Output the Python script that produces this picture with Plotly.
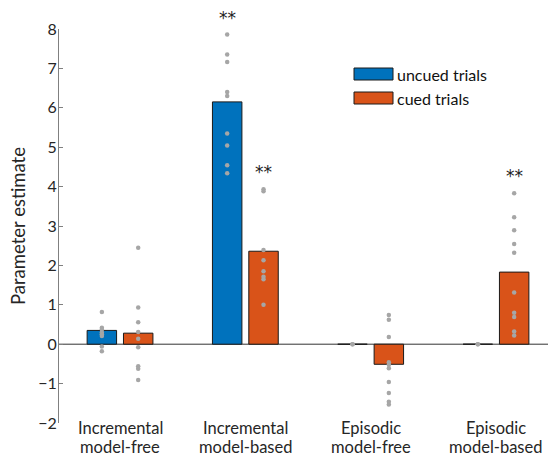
import plotly.graph_objects as go

categories = [("Incremental", "model-free"), ("Incremental", "model-based"),
              ("Episodic", "model-free"), ("Episodic", "model-based")]
uncued_values = [0.35, 6.15, 0.0, 0.0]
cued_values = [0.28, 2.36, -0.51, 1.83]

uncued_points = [
    [0.82, 0.42, 0.37, 0.30, 0.25, 0.21, -0.06, -0.18],
    [7.86, 7.35, 7.16, 6.40, 6.30, 5.35, 5.04, 4.54, 4.34],
    [0.0, 0.0],
    [0.0, 0.0],
]
cued_points = [
    [2.45, 0.93, 0.56, 0.31, 0.14, -0.08, -0.56, -0.62, -0.91],
    [3.93, 3.88, 2.39, 2.13, 1.85, 1.71, 1.65, 1.0],
    [0.74, 0.62, 0.18, -0.46, -0.52, -0.61, -0.96, -1.24, -1.46, -1.53],
    [3.83, 3.22, 2.89, 2.54, 2.32, 1.31, 0.80, 0.69, 0.32, 0.22],
]
uncued_sig = [False, True, False, False]
cued_sig = [False, True, False, True]
y_range = [-2, 8]

BLUE = "#0072BD"
ORANGE = "#D95319"
FONT = "Lato"
OFF = 0.145
W = 0.235
PW, PH = 489, 394  # plot area in px
L, T = 59, 29

xs = [i + 1 for i in range(len(categories))]
fig = go.Figure()

fig.add_trace(go.Bar(x=[x - OFF for x in xs], y=uncued_values, width=W,
                     marker=dict(color=BLUE, line=dict(color="#1a1a1a", width=1)),
                     showlegend=False))
fig.add_trace(go.Bar(x=[x + OFF for x in xs], y=cued_values, width=W,
                     marker=dict(color=ORANGE, line=dict(color="#1a1a1a", width=1)),
                     showlegend=False))

fig.add_shape(type="line", xref="paper", x0=0, x1=1, yref="y", y0=0, y1=0,
              line=dict(color="#333333", width=1), layer="below")

for i, x in enumerate(xs):
    for pts, off in ((uncued_points[i], -OFF), (cued_points[i], OFF)):
        fig.add_trace(go.Scatter(x=[x + off] * len(pts), y=pts, mode="markers",
                                 marker=dict(color="#a6a6a6", size=4.5),
                                 showlegend=False, hoverinfo="skip"))
    for sig, pts, off in ((uncued_sig[i], uncued_points[i], -OFF),
                          (cued_sig[i], cued_points[i], OFF)):
        if sig:
            v = max(pts) + 0.43
            fig.add_annotation(x=x + off, xref="x", yref="paper",
                               y=(v - y_range[0]) / (y_range[1] - y_range[0]),
                               text="**", showarrow=False, yanchor="middle",
                               font=dict(family="DejaVu Sans", size=17, color="#222222"))

# x tick labels (two lines each)
for x, (l1, l2) in zip(xs, categories):
    for k, line in enumerate((l1, l2)):
        fig.add_annotation(x=x, xref="x", yref="paper", y=-(5 + k * 19) / PH,
                           text=line, showarrow=False, yanchor="middle", xanchor="center",
                           font=dict(family=FONT, size=16.5, color="#262626"))

# y axis title
fig.add_annotation(xref="paper", yref="paper", x=-(L - 18) / PW, y=0.5,
                   text="Parameter estimate", textangle=-90, showarrow=False,
                   xanchor="center", yanchor="middle",
                   font=dict(family=FONT, size=18.5, color="#262626"))

# legend drawn manually (wide swatches)
for j, (name, col) in enumerate((("uncued trials", BLUE), ("cued trials", ORANGE))):
    top = 1 - (68 - T + j * 24) / PH
    fig.add_shape(type="rect", xref="paper", yref="paper",
                  x0=(354 - L) / PW, x1=(393 - L) / PW,
                  y0=top - 12 / PH, y1=top,
                  fillcolor=col, line=dict(color="#1a1a1a", width=1))
    fig.add_annotation(xref="paper", yref="paper", x=(395 - L) / PW, y=top - 6 / PH,
                       text=name, showarrow=False, xanchor="left", yanchor="middle",
                       font=dict(family=FONT, size=16, color="#111111"))

fig.update_layout(
    width=551, height=458,
    margin=dict(l=L, r=3, t=T, b=35, autoexpand=False),
    paper_bgcolor="white", plot_bgcolor="white",
    font=dict(family=FONT, size=16, color="#262626"),
    barmode="overlay",
    xaxis=dict(range=[0.513, 4.415], tickvals=xs, showticklabels=False,
               showline=False, showgrid=False, zeroline=False, ticks="",
               automargin=False),
    yaxis=dict(range=y_range, dtick=1, showline=True, linecolor="#808080", linewidth=1,
               ticks="inside", ticklen=4, tickcolor="#808080",
               showgrid=False, zeroline=False, automargin=False,
               ticklabelstandoff=-2,
               tickfont=dict(family=FONT, size=16, color="#262626")),
)

fig.write_html("out.html", config={"displayModeBar": False},
               post_script="document.body.style.margin='0';")
